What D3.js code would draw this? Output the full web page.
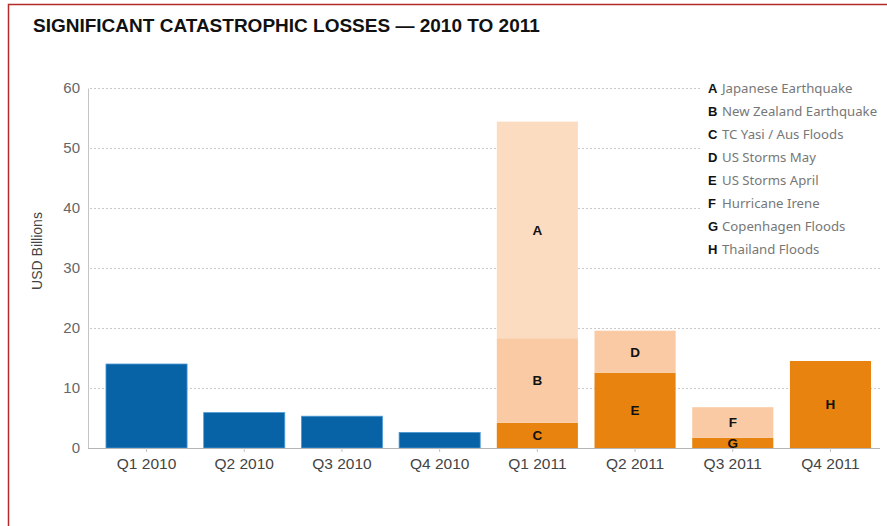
<!DOCTYPE html>
<html>
<head>
<meta charset="utf-8">
<script src="https://cdn.jsdelivr.net/npm/d3@7"></script>
<style>
  html, body { margin: 0; padding: 0; background: #fff; }
  svg { display: block; }
</style>
</head>
<body>
<svg id="chart" width="887" height="526"></svg>
<script>
// Quarterly catastrophe losses, USD billions
const quarters = ["Q1 2010", "Q2 2010", "Q3 2010", "Q4 2010", "Q1 2011", "Q2 2011", "Q3 2011", "Q4 2011"];
const quarterTotals2010 = [14.0, 5.9, 5.3, 2.6];

// 2011 events, listed bottom-to-top within each quarter's stack
const eventLetters = ["C", "B", "A", "E", "D", "G", "F", "H"];
const eventQuarters = ["Q1 2011", "Q1 2011", "Q1 2011", "Q2 2011", "Q2 2011", "Q3 2011", "Q3 2011", "Q4 2011"];
const eventValues = [4.2, 14.1, 36.1, 12.55, 7.0, 1.7, 5.1, 14.5];
const eventShades = ["dark", "mid", "light", "dark", "mid", "dark", "mid", "dark"];

// Legend entries
const legendLetters = ["A", "B", "C", "D", "E", "F", "G", "H"];
const legendNames = ["Japanese Earthquake", "New Zealand Earthquake", "TC Yasi / Aus Floods",
  "US Storms May", "US Storms April", "Hurricane Irene", "Copenhagen Floods", "Thailand Floods"];

const yTicks = [0, 10, 20, 30, 40, 50, 60];

const svg = d3.select("#chart");
const shadeColor = { dark: "#e8830f", mid: "#f9caa3", light: "#fcdcc1" };

// Frame
svg.append("rect")
  .attr("x", 8.5).attr("y", 4.5).attr("width", 900).attr("height", 540)
  .attr("fill", "none").attr("stroke", "#b32a2a").attr("stroke-width", 1.5);

// Title
svg.append("text")
  .attr("x", 33).attr("y", 32)
  .attr("font-family", "'Liberation Sans Narrow', 'Arial Narrow', 'Liberation Sans', sans-serif")
  .attr("font-weight", "bold").attr("font-size", 19).attr("fill", "#111")
  .text("SIGNIFICANT CATASTROPHIC LOSSES — 2010 TO 2011");

const x = d3.scaleBand().domain(quarters).range([88, 889]).paddingInner(0.17).paddingOuter(0.184);
const y = d3.scaleLinear().domain([0, 60]).range([448, 88]);

// Dotted gridlines
svg.append("g").selectAll("line").data(yTicks.filter(d => d > 0)).join("line")
  .attr("x1", 90).attr("x2", 880)
  .attr("y1", d => y(d) + 0.5).attr("y2", d => y(d) + 0.5)
  .attr("stroke", "#c9c9c9").attr("stroke-width", 1).attr("stroke-dasharray", "2,2");

// Y axis
const yAxis = svg.append("g").attr("transform", "translate(88,0)")
  .call(d3.axisLeft(y).tickValues(yTicks).tickSize(0).tickPadding(8));
yAxis.select(".domain").attr("stroke", "#c4c4c4");
yAxis.selectAll("text")
  .attr("font-family", "'Liberation Sans', Arial, sans-serif")
  .attr("font-size", 15).attr("fill", "#666");

svg.append("text")
  .attr("transform", "translate(42,251) rotate(-90)")
  .attr("text-anchor", "middle")
  .attr("font-family", "'Liberation Sans', Arial, sans-serif")
  .attr("font-size", 14).attr("fill", "#444")
  .text("USD Billions");

// 2010 bars
svg.append("g").selectAll("rect").data(quarterTotals2010).join("rect")
  .attr("x", (d, i) => x(quarters[i]))
  .attr("width", x.bandwidth())
  .attr("y", d => y(d))
  .attr("height", d => y(0) - y(d))
  .attr("fill", "#0862a6").attr("stroke", "#4d9bd6").attr("stroke-width", 0.8);

// 2011 stacked event bars
const running = {};
const segments = eventLetters.map((letter, i) => {
  const q = eventQuarters[i];
  const y0 = running[q] || 0;
  const y1 = y0 + eventValues[i];
  running[q] = y1;
  return { letter, q, y0, y1, shade: eventShades[i] };
});

const seg = svg.append("g").selectAll("g").data(segments).join("g");
seg.append("rect")
  .attr("x", d => x(d.q))
  .attr("width", x.bandwidth())
  .attr("y", d => y(d.y1))
  .attr("height", d => y(d.y0) - y(d.y1))
  .attr("fill", d => shadeColor[d.shade]);
seg.append("text")
  .attr("x", d => x(d.q) + x.bandwidth() / 2)
  .attr("y", d => (y(d.y0) + y(d.y1)) / 2)
  .attr("dy", "0.36em")
  .attr("text-anchor", "middle")
  .attr("font-family", "'Liberation Sans', Arial, sans-serif")
  .attr("font-weight", "bold").attr("font-size", 13.5).attr("fill", "#111")
  .text(d => d.letter);

// X axis
const xAxis = svg.append("g").attr("transform", "translate(0,448)")
  .call(d3.axisBottom(x).tickSize(4).tickPadding(6).tickSizeOuter(0));
xAxis.select(".domain").attr("stroke", "#b5b5b5").attr("d", "M88,0.5H880");
xAxis.selectAll(".tick line").attr("stroke", "#c4c4c4");
xAxis.selectAll("text")
  .attr("font-family", "'Liberation Sans Narrow', 'Arial Narrow', 'Liberation Sans', sans-serif")
  .attr("font-size", 15.5).attr("fill", "#444");

// Legend, on a white panel over the gridlines
const legend = svg.append("g").attr("transform", "translate(708,0)");
legend.append("rect").attr("x", -8).attr("y", 76).attr("width", 185).attr("height", 182).attr("fill", "#fff");
const rows = legend.selectAll("g").data(legendLetters).join("g")
  .attr("transform", (d, i) => `translate(0,${92.5 + i * 23})`);
rows.append("text")
  .attr("font-family", "'Liberation Sans', Arial, sans-serif")
  .attr("font-weight", "bold").attr("font-size", 13).attr("fill", "#111")
  .text(d => d);
rows.append("text")
  .attr("x", 14)
  .attr("font-family", "'Noto Sans', 'Open Sans', sans-serif")
  .attr("font-size", 13.2).attr("fill", "#777")
  .text((d, i) => legendNames[i]);
</script>
</body>
</html>
